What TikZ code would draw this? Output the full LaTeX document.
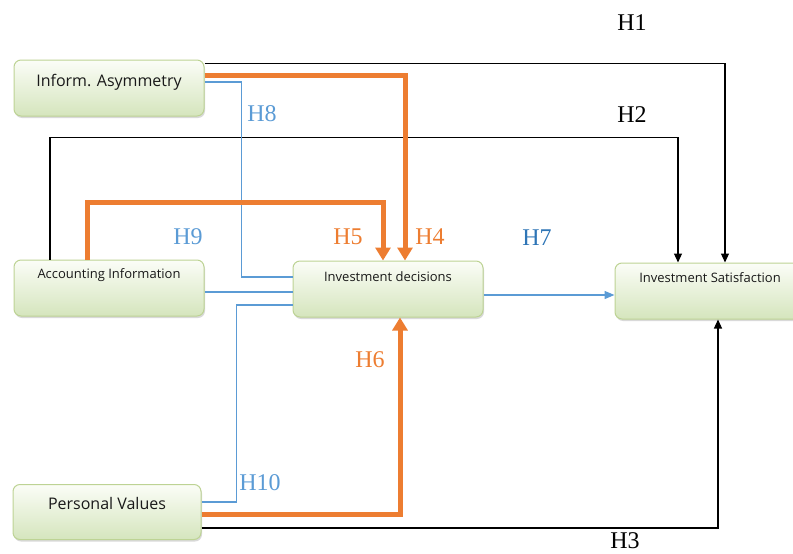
\documentclass[tikz,border=0pt]{standalone}
\usepackage{fontspec}
\setmainfont{Liberation Serif}
\newfontfamily\boxfont{Open Sans}
\usepackage{xcolor}
\usepackage{tikz}
\usetikzlibrary{arrows.meta}
\usetikzlibrary{shadows}
\definecolor{hyporange}{HTML}{ED7D31}
\definecolor{hypblue}{HTML}{5B9BD5}
\definecolor{hypdarkblue}{HTML}{2E75B6}
\definecolor{boxline}{HTML}{BDD394}
\definecolor{boxtop}{HTML}{FBFDF7}
\definecolor{boxbottom}{HTML}{D5E5BD}

\begin{document}
\begin{tikzpicture}[x=1pt,y=-1pt,
	box/.style={rounded corners=7pt,draw=boxline,line width=1pt,top color=boxtop,bottom color=boxbottom,minimum width=190pt,minimum height=56pt,drop shadow={opacity=0.3,shadow xshift=1pt,shadow yshift=-2pt}},
	bigtxt/.style={font=\boxfont\fontsize{16}{19}\selectfont,text=black!90},
	smalltxt/.style={font=\boxfont\fontsize{13}{16}\selectfont,text=black!90},
	hyp/.style={font=\fontsize{24}{28}\selectfont},
	blk/.style={-{Triangle[length=9pt,width=8pt]},line width=1.2pt,black},
	org/.style={-{Triangle[length=13pt,width=15pt]},line width=5pt,hyporange},
	blu/.style={line width=1.4pt,hypblue}]
		\useasboundingbox (0,0) rectangle (793,554);
		\clip (0,0) rectangle (793,554);
		% boxes
		\node[box] (ia) at (109,88) {};
		\node[box] (ai) at (109,288) {};
		\node[box] (id) at (388,289) {};
		\node[box,minimum width=186pt] (is) at (708,291) {};
		\node[box,minimum width=188pt,minimum height=55pt] (pv) at (107,512) {};
		\node[bigtxt] (iaT) at ([yshift=6pt]ia.center) {Inform. Asymmetry};
		\node[smalltxt] (aiT) at ([yshift=13pt]ai.center) {Accounting Information};
		\node[smalltxt] (idT) at ([yshift=12pt]id.center) {Investment decisions};
		\node[smalltxt] (isT) at ([yshift=13pt,xshift=2pt]is.center) {Investment Satisfaction};
		\node[bigtxt] (pvT) at ([yshift=9pt]pv.center) {Personal Values};
		% paths
		\draw[blk] ([yshift=-4pt]ia.north east) -| ([xshift=17pt]is.north);
		\draw[blk] ([xshift=-59pt]ai.north) -- ++(0,-122) -| ([xshift=-30pt]is.north);
		\draw[blk] ([yshift=-16pt]pv.east) -| ([xshift=10pt]is.south);
		\draw[blu] ([yshift=6pt]ia.east) -- ++(37,0) |- ([yshift=12pt]id.west);
		\draw[blu] ([yshift=-4pt]ai.east) -- ([yshift=-4pt]ai.east -| id.west);
		\draw[blu] ([yshift=10pt]pv.east) -- ++(35,0) |- ([yshift=-16pt]id.west);
		\draw[blu,-{Triangle[length=10pt,width=8pt]}] ([yshift=-6pt]id.east) -- ([yshift=-6pt]id.east -| is.west);
		\draw[org] ([yshift=13pt]ia.east) -| ([xshift=17pt]id.north);
		\draw[org] ([xshift=-22pt]ai.north) -- ++(0,-57) -| ([xshift=-5pt]id.north);
		\draw[org] ([yshift=-2pt]pv.east) -| ([xshift=12pt]id.south);
		% labels
		\node[hyp] (h1) at (632,23) {H1};
		\node[hyp] (h2) at (632,115) {H2};
		\node[hyp] (h3) at (625,541) {H3};
		\node[hyp,hyporange] (h4) at (430,237) {H4};
		\node[hyp,hyporange] (h5) at (348,237) {H5};
		\node[hyp,hyporange] (h6) at (370,360) {H6};
		\node[hyp,hypdarkblue] (h7) at (537,238) {H7};
		\node[hyp,hypblue] (h8) at (262,114) {H8};
		\node[hyp,hypblue] (h9) at (188,237) {H9};
		\node[hyp,hypblue] (h10) at (260,483) {H10};
	\end{tikzpicture}
\end{document}
